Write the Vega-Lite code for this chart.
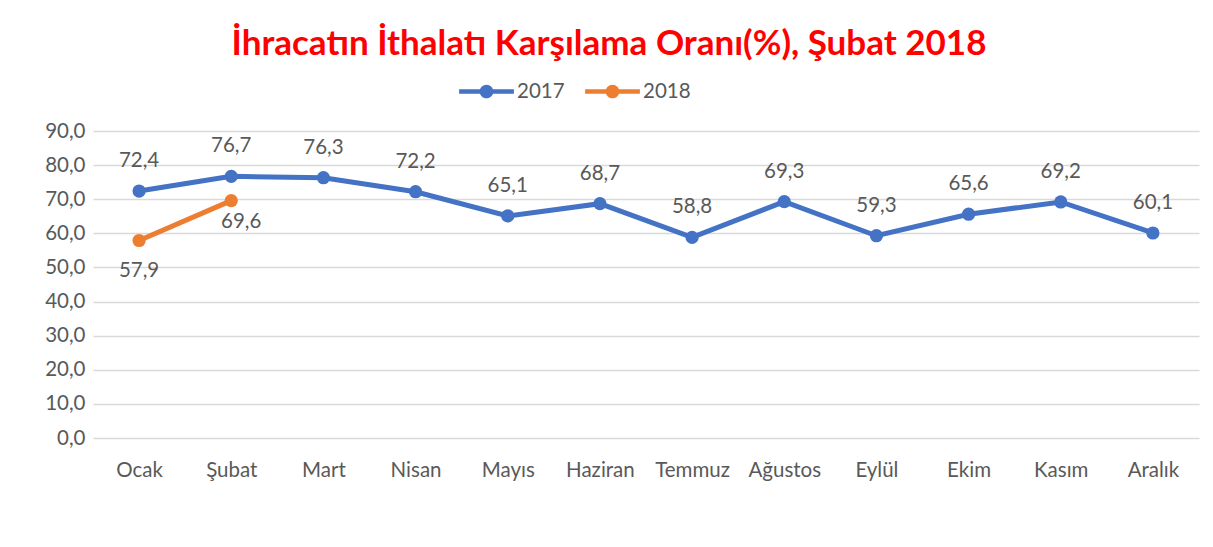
{
  "$schema": "https://vega.github.io/schema/vega-lite/v6.json",
  "width": 1106,
  "height": 307,
  "autosize": {"type": "none"},
  "padding": {"left": 93, "top": 131, "right": 14, "bottom": 109},
  "background": "white",
  "config": {
    "font": "Lato",
    "locale": {"number": {"decimal": ",", "thousands": ".", "grouping": [3], "currency": ["", " TL"]}},
    "view": {"stroke": null},
    "axis": {"labelColor": "#595959", "labelFont": "Lato", "labelFontSize": 20.5, "domain": false, "ticks": false, "title": null}
  },
  "title": {
    "text": "İhracatın İthalatı Karşılama Oranı(%), Şubat 2018",
    "color": "#FF0000",
    "font": "Lato",
    "fontSize": 35,
    "fontWeight": "bold",
    "anchor": "middle",
    "dx": -37,
    "offset": 2
  },
  "data": {
    "values": [
      {"ay": "Ocak", "yil": "2017", "deger": 72.4},
      {"ay": "Şubat", "yil": "2017", "deger": 76.7},
      {"ay": "Mart", "yil": "2017", "deger": 76.3},
      {"ay": "Nisan", "yil": "2017", "deger": 72.2},
      {"ay": "Mayıs", "yil": "2017", "deger": 65.1},
      {"ay": "Haziran", "yil": "2017", "deger": 68.7},
      {"ay": "Temmuz", "yil": "2017", "deger": 58.8},
      {"ay": "Ağustos", "yil": "2017", "deger": 69.3},
      {"ay": "Eylül", "yil": "2017", "deger": 59.3},
      {"ay": "Ekim", "yil": "2017", "deger": 65.6},
      {"ay": "Kasım", "yil": "2017", "deger": 69.2},
      {"ay": "Aralık", "yil": "2017", "deger": 60.1},
      {"ay": "Ocak", "yil": "2018", "deger": 57.9},
      {"ay": "Şubat", "yil": "2018", "deger": 69.6}
    ]
  },
  "encoding": {
    "x": {
      "field": "ay",
      "type": "ordinal",
      "sort": ["Ocak", "Şubat", "Mart", "Nisan", "Mayıs", "Haziran", "Temmuz", "Ağustos", "Eylül", "Ekim", "Kasım", "Aralık"],
      "scale": {"type": "point", "padding": 0.5},
      "axis": {"labelAngle": 0, "labelPadding": 22, "grid": false}
    },
    "y": {
      "field": "deger",
      "type": "quantitative",
      "scale": {"domain": [0, 90], "nice": false},
      "axis": {"values": [0, 10, 20, 30, 40, 50, 60, 70, 80, 90], "format": ".1f", "labelPadding": 8, "grid": true, "gridColor": "#D9D9D9", "gridWidth": 1.3}
    }
  },
  "layer": [
    {
      "mark": {"type": "line", "strokeWidth": 5},
      "encoding": {
        "color": {
          "field": "yil",
          "type": "nominal",
          "scale": {"domain": ["2017", "2018"], "range": ["#4472C4", "#ED7D31"]},
          "legend": {
            "title": null,
            "orient": "none",
            "direction": "horizontal",
            "legendX": 366,
            "legendY": -67,
            "labelFontSize": 20.5,
            "labelColor": "#595959",
            "labelFont": "Lato",
            "symbolType": "M-1,-0.08L1,-0.08L1,0.08L-1,0.08Z M0.25,0A0.25,0.25 0 1,1 -0.25,0A0.25,0.25 0 1,1 0.25,0Z",
            "symbolSize": 3000,
            "symbolStrokeWidth": 0,
            "columnPadding": 20,
            "labelOffset": 3,
            "encode": {"symbols": {"update": {"fill": {"scale": "color", "field": "value"}, "strokeWidth": {"value": 0}}}}
          }
        }
      }
    },
    {
      "mark": {"type": "point", "filled": true, "opacity": 1, "size": 175, "shape": "circle"},
      "encoding": {"color": {"field": "yil", "type": "nominal", "legend": null}}
    },
    {
      "transform": [{"filter": "datum.yil == '2017'"}],
      "mark": {"type": "text", "dy": -30, "fontSize": 20.5, "color": "#595959", "font": "Lato"},
      "encoding": {"text": {"field": "deger", "type": "quantitative", "format": ".1f"}}
    },
    {
      "transform": [{"filter": "datum.yil == '2018' && datum.ay == 'Ocak'"}],
      "mark": {"type": "text", "dy": 31, "fontSize": 20.5, "color": "#595959", "font": "Lato"},
      "encoding": {"text": {"field": "deger", "type": "quantitative", "format": ".1f"}}
    },
    {
      "transform": [{"filter": "datum.yil == '2018' && datum.ay == 'Şubat'"}],
      "mark": {"type": "text", "dy": 21, "dx": 10, "fontSize": 20.5, "color": "#595959", "font": "Lato"},
      "encoding": {"text": {"field": "deger", "type": "quantitative", "format": ".1f"}}
    }
  ]
}
